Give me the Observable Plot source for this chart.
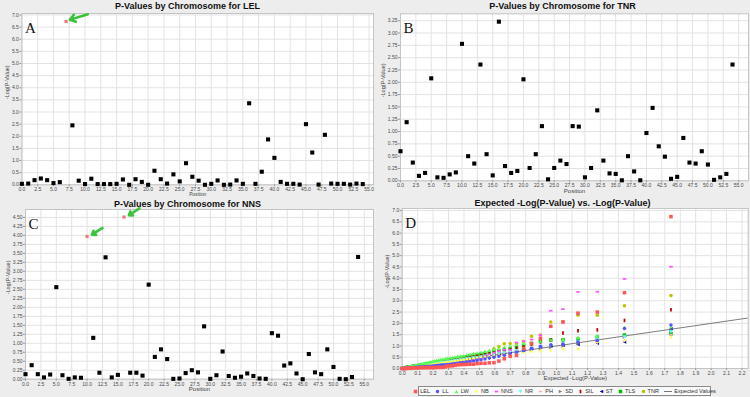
<!DOCTYPE html>
<html><head><meta charset="utf-8">
<script src="https://cdn.jsdelivr.net/npm/d3@7"></script>
<script src="https://cdn.jsdelivr.net/npm/@observablehq/plot@0.6"></script>
<style>
body{margin:0;background:#ededed;}
#wrap{position:relative;width:750px;height:397px;overflow:hidden;background:#ededed;font-family:"Liberation Sans",Arial,sans-serif;}
.title{position:absolute;width:375px;text-align:center;font-weight:bold;font-size:9px;color:#111;white-space:nowrap;line-height:10px;}
.panel{position:absolute;}
.legend{position:absolute;left:418px;top:386px;width:291px;height:8px;border:1px solid #8a8a8a;background:#fafafa;display:flex;align-items:center;justify-content:center;gap:5.2px;font-size:5.6px;color:#333;line-height:8px;}
.legend span.item{display:flex;align-items:center;gap:2px;white-space:nowrap;}
</style></head><body><div id="wrap"></div>
<script>
// ---------- data ----------
const positions = [0,1,2,3,4,5,6,7,8,9,10,11,12,13,14,15,16,17,18,19,20,21,22,23,24,25,26,27,28,29,30,31,32,33,34,35,36,37,38,39,40,41,42,43,44,45,46,47,48,49,50,51,52,53,54];
const lelValues = [0.04,0.05,0.19,0.26,0.19,0.07,0.11,6.73,2.45,0.17,0.03,0.25,0.03,0.03,0.03,0.04,0.22,0.00,0.23,0.12,0.00,0.58,0.23,0.05,0.43,0.14,0.89,0.33,0.17,0.00,0.04,0.18,0.00,0.01,0.18,0.04,3.36,0.04,0.54,1.87,1.11,0.12,0.04,0.04,0.01,2.50,1.33,0.01,2.06,0.05,0.04,0.04,0.01,0.05,0.03];
const tnrValues = [0.60,1.19,0.37,0.10,0.16,2.08,0.07,0.06,0.13,0.17,2.78,0.50,0.35,2.36,0.54,0.11,3.23,0.30,0.16,0.20,2.06,0.26,0.54,1.11,0.03,0.26,0.41,0.34,1.11,1.10,0.07,0.26,1.43,0.41,0.15,0.14,0.01,0.50,0.19,0.01,0.97,1.48,0.70,0.49,0.04,0.08,0.87,0.37,0.35,0.60,0.33,0.02,0.07,0.14,2.36];
const nnsValues = [0.14,0.39,0.14,0.05,0.13,2.56,0.11,0.01,0.05,0.04,3.97,1.15,0.18,3.39,0.05,0.12,4.51,0.18,0.18,0.10,2.63,0.62,0.83,0.56,0.01,0.02,0.17,0.25,0.19,1.47,0.01,0.11,0.77,0.09,0.04,0.07,0.16,0.09,0.02,0.01,1.28,1.21,0.38,0.44,0.16,0.00,0.70,0.19,0.14,0.83,0.34,0.01,0.00,0.06,3.40];
const lelHighlighted = [7];
const nnsHighlighted = [10, 16];

const positionTicks = [0,2.5,5,7.5,10,12.5,15,17.5,20,22.5,25,27.5,30,32.5,35,37.5,40,42.5,45,47.5,50,52.5,55];
const lelYTicks = [0,0.5,1,1.5,2,2.5,3,3.5,4,4.5,5,5.5,6,6.5,7];
const tnrYTicks = [0,0.25,0.5,0.75,1,1.25,1.5,1.75,2,2.25,2.5,2.75,3,3.25];
const nnsYTicks = [0,0.25,0.5,0.75,1,1.25,1.5,1.75,2,2.25,2.5,2.75,3,3.25,3.5,3.75,4,4.25,4.5];
const qqXTicks = [0,0.1,0.2,0.3,0.4,0.5,0.6,0.7,0.8,0.9,1,1.1,1.2,1.3,1.4,1.5,1.6,1.7,1.8,1.9,2,2.1,2.2];
const qqYTicks = [0,0.5,1,1.5,2,2.5,3,3.5,4,4.5,5,5.5,6,6.5,7];

// expected -log(p) for ranks 1..55
const expectedLogP = [1.740,1.439,1.263,1.138,1.041,0.962,0.895,0.837,0.786,0.740,0.699,0.661,0.626,0.594,0.564,0.536,0.510,0.485,0.462,0.439,0.418,0.398,0.379,0.360,0.342,0.325,0.309,0.293,0.278,0.263,0.249,0.235,0.222,0.209,0.196,0.184,0.172,0.161,0.149,0.138,0.128,0.117,0.107,0.097,0.087,0.078,0.068,0.059,0.050,0.041,0.033,0.024,0.016,0.008,0.000];
const expectedLine = [0, 2.24];

const traitNames = ["LEL","LL","LW","NB","NNS","NR","PH","SD","SIL","ST","TLS","TNR"];
const llObserved  = [1.93,1.77,1.24,1.17,1.08,1.05,0.98,0.90,0.80,0.72,0.65,0.59,0.54,0.50,0.46,0.42,0.39,0.36,0.33,0.31,0.29,0.27,0.25,0.23,0.22,0.20,0.19,0.18,0.17,0.16,0.15,0.14,0.13,0.12,0.11,0.10,0.095,0.09,0.085,0.08,0.07,0.065,0.06,0.055,0.05,0.045,0.04,0.035,0.03,0.025,0.02,0.015,0.01,0.005,0.002];
const lwObserved  = [1.85,1.83,1.45,1.39,1.30,1.27,1.22,1.17,1.12,1.06,1.00,0.95,0.90,0.85,0.81,0.77,0.73,0.70,0.67,0.64,0.61,0.58,0.56,0.54,0.52,0.50,0.48,0.46,0.44,0.42,0.40,0.38,0.36,0.34,0.32,0.30,0.28,0.26,0.25,0.23,0.21,0.20,0.18,0.17,0.15,0.14,0.12,0.11,0.10,0.08,0.07,0.06,0.05,0.03,0.02];
const nbObserved  = [1.37,1.24,1.16,0.87,0.86,0.80,0.77,0.74,0.71,0.68,0.65,0.62,0.59,0.56,0.53,0.51,0.48,0.46,0.44,0.42,0.40,0.38,0.36,0.34,0.32,0.31,0.29,0.28,0.26,0.25,0.23,0.22,0.21,0.19,0.18,0.17,0.16,0.15,0.14,0.13,0.12,0.11,0.10,0.09,0.08,0.07,0.06,0.05,0.045,0.04,0.03,0.025,0.02,0.01,0.005];
const nrObserved  = [1.62,1.40,1.30,1.20,1.10,1.02,0.95,0.88,0.82,0.77,0.72,0.68,0.64,0.60,0.57,0.54,0.51,0.48,0.46,0.44,0.42,0.40,0.38,0.36,0.34,0.32,0.31,0.29,0.28,0.26,0.25,0.24,0.22,0.21,0.20,0.19,0.17,0.16,0.15,0.14,0.13,0.12,0.11,0.10,0.09,0.08,0.07,0.06,0.05,0.04,0.03,0.025,0.02,0.01,0.005];
const phObserved  = [1.50,1.42,1.30,1.20,1.12,1.04,0.97,0.91,0.86,0.81,0.76,0.72,0.68,0.64,0.60,0.57,0.54,0.51,0.48,0.46,0.44,0.42,0.40,0.38,0.36,0.34,0.32,0.30,0.29,0.27,0.26,0.24,0.23,0.21,0.20,0.19,0.17,0.16,0.15,0.14,0.13,0.12,0.11,0.10,0.09,0.08,0.07,0.06,0.05,0.04,0.035,0.03,0.02,0.01,0.005];
const sdObserved  = [1.70,1.40,1.22,1.10,1.00,0.93,0.87,0.82,0.77,0.72,0.68,0.64,0.60,0.57,0.54,0.51,0.48,0.46,0.44,0.41,0.39,0.37,0.35,0.34,0.32,0.30,0.29,0.27,0.26,0.24,0.23,0.22,0.20,0.19,0.18,0.17,0.16,0.15,0.14,0.13,0.12,0.11,0.10,0.09,0.08,0.07,0.06,0.05,0.04,0.035,0.03,0.02,0.015,0.01,0.0];
const silObserved = [2.60,2.13,1.71,1.67,1.57,1.27,1.18,1.08,1.00,0.93,0.87,0.82,0.77,0.73,0.69,0.66,0.62,0.59,0.56,0.53,0.50,0.48,0.45,0.43,0.41,0.39,0.37,0.35,0.33,0.31,0.29,0.27,0.26,0.24,0.22,0.21,0.19,0.18,0.17,0.15,0.14,0.13,0.12,0.11,0.10,0.09,0.08,0.07,0.06,0.05,0.04,0.03,0.02,0.01,0.005];
const stObserved  = [1.76,1.17,1.12,1.06,1.03,1.00,0.95,0.88,0.82,0.77,0.72,0.68,0.64,0.60,0.57,0.54,0.51,0.48,0.45,0.43,0.41,0.39,0.37,0.35,0.33,0.31,0.29,0.28,0.26,0.25,0.23,0.22,0.21,0.19,0.18,0.17,0.16,0.15,0.14,0.13,0.12,0.11,0.10,0.09,0.08,0.07,0.06,0.05,0.045,0.04,0.03,0.025,0.02,0.01,0.005];
const tlsObserved = [1.54,1.48,1.39,1.30,1.27,1.26,1.20,1.10,1.02,0.95,0.89,0.84,0.79,0.75,0.71,0.67,0.64,0.61,0.58,0.55,0.52,0.50,0.47,0.45,0.43,0.41,0.39,0.37,0.35,0.33,0.31,0.29,0.28,0.26,0.24,0.23,0.21,0.20,0.18,0.17,0.16,0.14,0.13,0.12,0.11,0.10,0.09,0.08,0.07,0.06,0.05,0.04,0.03,0.02,0.01];

// ---------- symbols & styles ----------
function polySymbol(pts){return {draw(ctx,size){const h=Math.sqrt(size)/2;pts.forEach(([a,b],i)=>i?ctx.lineTo(a*h,b*h):ctx.moveTo(a*h,b*h));ctx.closePath();}};}
const circleSym={draw(ctx,size){const h=Math.sqrt(size)/2;ctx.moveTo(h,0);ctx.arc(0,0,h,0,2*Math.PI);ctx.closePath();}};
const ellipseSym={draw(ctx,size){const h=Math.sqrt(size)/2;for(let i=0;i<16;i++){const t=2*Math.PI*i/16;const px=h*Math.cos(t),py=0.5*h*Math.sin(t);i?ctx.lineTo(px,py):ctx.moveTo(px,py);}ctx.closePath();}};
const squareSym=polySymbol([[-1,-1],[1,-1],[1,1],[-1,1]]);
const upSym=polySymbol([[0,-1],[1,1],[-1,1]]);
const diamondSym=polySymbol([[0,-1],[1,0],[0,1],[-1,0]]);
const hRectSym=polySymbol([[-1,-0.5],[1,-0.5],[1,0.5],[-1,0.5]]);
const downSym=polySymbol([[0,1],[1,-1],[-1,-1]]);
const rightSym=polySymbol([[-1,-1],[1,0],[-1,1]]);
const vRectSym=polySymbol([[-0.5,-1],[0.5,-1],[0.5,1],[-0.5,1]]);
const leftSym=polySymbol([[1,-1],[-1,0],[1,1]]);

const traitStyle = {
  LEL:{color:"#ff5555",symbol:squareSym},
  LL:{color:"#5555ff",symbol:circleSym},
  LW:{color:"#55ff55",symbol:upSym},
  NB:{color:"#ffff55",symbol:diamondSym},
  NNS:{color:"#ff55ff",symbol:hRectSym},
  NR:{color:"#55ffff",symbol:downSym},
  PH:{color:"#ffafaf",symbol:ellipseSym},
  SD:{color:"#808080",symbol:rightSym},
  SIL:{color:"#c00000",symbol:vRectSym},
  ST:{color:"#0000c0",symbol:leftSym},
  TLS:{color:"#00c000",symbol:squareSym},
  TNR:{color:"#c0c000",symbol:circleSym}
};
const desc = a => a.slice().sort((p,q)=>q-p);
const observedByTrait = {
  LEL: desc(lelValues), LL: llObserved, LW: lwObserved, NB: nbObserved, NNS: desc(nnsValues),
  NR: nrObserved, PH: phObserved, SD: sdObserved, SIL: silObserved, ST: stObserved, TLS: tlsObserved, TNR: desc(tnrValues)
};

const wrap = document.getElementById("wrap");
const FONT = "Liberation Sans, Arial, sans-serif";
const tickColor = "#4a4a4a";
const gridColor = "#e3e3e3";

function addTitle(text, left, top){
  const d=document.createElement("div");d.className="title";d.textContent=text;
  d.style.left=left+"px";d.style.top=top+"px";wrap.appendChild(d);
}
function place(svg,left,top){
  const d=document.createElement("div");d.className="panel";d.style.left=left+"px";d.style.top=top+"px";
  d.appendChild(svg);wrap.appendChild(d);
}

function scatterPanel(cfg){
  const rows = positions.map((p,i)=>({pos:p,val:cfg.values[i],hl:cfg.highlight.includes(p)}));
  const hl = rows.filter(r=>r.hl);
  return Plot.plot({
    width:375,height:cfg.height,
    marginLeft:cfg.ml,marginRight:2,marginTop:cfg.mt,marginBottom:cfg.mb,
    style:{background:"transparent",fontFamily:FONT,color:tickColor,overflow:"visible"},
    x:{domain:[0,cfg.xMax]},
    y:{domain:[0,cfg.yMax]},
    marks:[
      Plot.frame({fill:"white",stroke:"none"}),
      Plot.gridX(positionTicks,{stroke:gridColor,strokeOpacity:1}),
      Plot.gridY(cfg.yTicks,{stroke:gridColor,strokeOpacity:1}),
      Plot.frame({stroke:"#c4c4c4"}),
      Plot.axisX(positionTicks,{tickFormat:d3.format(".1f"),tickSize:2,tickPadding:1,fontSize:5,label:null,stroke:"#999"}),
      Plot.axisY(cfg.yTicks,{tickFormat:d3.format(cfg.yFmt),tickSize:2,tickPadding:1,fontSize:5,label:null,stroke:"#999"}),
      Plot.dot(rows.filter(r=>!r.hl),{x:"pos",y:"val",symbol:"square",r:2.3,fill:"#000"}),
      Plot.dot(hl,{x:"pos",y:"val",symbol:"square",r:1.8,fill:"#f07a7a"}),
      Plot.arrow(hl,{x1:d=>d.pos+cfg.arrow[0],y1:d=>d.val+cfg.arrow[1],x2:d=>d.pos+cfg.arrow[2],y2:d=>d.val+cfg.arrow[3],stroke:"#3cc33c",strokeWidth:2.6,headLength:5,headAngle:70}),
      Plot.text([cfg.letter],{frameAnchor:"top-left",dx:3,dy:9,fontFamily:"Liberation Serif, DejaVu Serif, serif",fontSize:15,fill:"#111"}),
      Plot.text(["-Log(P-Value)"],{frameAnchor:"left",rotate:-90,dx:cfg.ylabDx,fontSize:5.5,fill:"#444"}),
      Plot.text(["Position"],{frameAnchor:"bottom",dy:cfg.xlabDy,fontSize:cfg.xlabSize,fill:"#444"})
    ]
  });
}

// Panel A
addTitle("P-Values by Chromosome for LEL",0,1);
place(scatterPanel({values:lelValues,highlight:lelHighlighted,letter:"A",height:197,ml:21.4,mt:13,mb:12.7,
  xMax:55.7,yMax:7.06,yTicks:lelYTicks,yFmt:".1f",ylabDx:-14.4,xlabDy:11.2,xlabSize:4.8,arrow:[3.44,0.30,0.6,0.07]}),0,0);
// Panel B
addTitle("P-Values by Chromosome for TNR",375,1);
place(scatterPanel({values:tnrValues,highlight:[],letter:"B",height:197,ml:25,mt:13.3,mb:16.7,
  xMax:56.6,yMax:3.39,yTicks:tnrYTicks,yFmt:".2f",ylabDx:-17.7,xlabDy:11.7,xlabSize:6,arrow:[0,0,0,0]}),375,0);
// Panel C
addTitle("P-Values by Chromosome for NNS",0,199);
place(scatterPanel({values:nnsValues,highlight:nnsHighlighted,letter:"C",height:200,ml:25,mt:12,mb:18.3,
  xMax:56.5,yMax:4.72,yTicks:nnsYTicks,yFmt:".2f",ylabDx:-17.7,xlabDy:12,xlabSize:6,arrow:[2.5,0.24,0.78,0.05]}),0,197);

// Panel D
addTitle("Expected -Log(P-Value) vs. -Log(P-Value)",375,198);
const qqMarks = [];
traitNames.slice().reverse().forEach(t=>{
  const obs = observedByTrait[t];
  const rows = obs.map((v,i)=>({x:expectedLogP[i],y:v}));
  qqMarks.push(Plot.dot(rows,{x:"x",y:"y",symbol:traitStyle[t].symbol,r:2,fill:traitStyle[t].color}));
});
place(Plot.plot({
  width:375,height:200,marginLeft:26.7,marginRight:2.3,marginTop:11,marginBottom:29,
  style:{background:"transparent",fontFamily:FONT,color:tickColor,overflow:"visible"},
  x:{domain:[0,2.24]},y:{domain:[0,7.09]},
  marks:[
    Plot.frame({fill:"white",stroke:"none"}),
    Plot.gridX(qqXTicks,{stroke:gridColor,strokeOpacity:1}),
    Plot.gridY(qqYTicks,{stroke:gridColor,strokeOpacity:1}),
    Plot.frame({stroke:"#c4c4c4"}),
    Plot.axisX(qqXTicks,{tickFormat:d3.format(".1f"),tickSize:2,tickPadding:1,fontSize:5,label:null,stroke:"#999"}),
    Plot.axisY(qqYTicks,{tickFormat:d3.format(".1f"),tickSize:2,tickPadding:1,fontSize:5,label:null,stroke:"#999"}),
    Plot.line(expectedLine,{x:d=>d,y:d=>d,stroke:"#7c7c7c",strokeWidth:1.1,clip:true}),
    ...qqMarks,
    Plot.text(["D"],{frameAnchor:"top-left",dx:3,dy:9,fontFamily:"Liberation Serif, DejaVu Serif, serif",fontSize:15,fill:"#111"}),
    Plot.text(["-Log(P-Value)"],{frameAnchor:"left",rotate:-90,dx:-15,fontSize:5.5,fill:"#444"}),
    Plot.text(["Expected -Log(P-Value)"],{frameAnchor:"bottom",dy:11.7,fontSize:6,fill:"#444"})
  ]
}),375,197);

// Legend for D
const legend=document.createElement("div");legend.className="legend";
traitNames.forEach(t=>{
  const it=document.createElement("span");it.className="item";
  const p=d3.path();traitStyle[t].symbol.draw(p,12.6);
  it.innerHTML=`<svg width="5" height="5" viewBox="-2.5 -2.5 5 5"><path d="${p.toString()}" fill="${traitStyle[t].color}"/></svg><span>${t}</span>`;
  legend.appendChild(it);
});
const ev=document.createElement("span");ev.className="item";
ev.innerHTML=`<svg width="8" height="5"><line x1="0" y1="2.5" x2="8" y2="2.5" stroke="#777" stroke-width="1"/></svg><span>Expected Values</span>`;
legend.appendChild(ev);
wrap.appendChild(legend);
</script></body></html>
